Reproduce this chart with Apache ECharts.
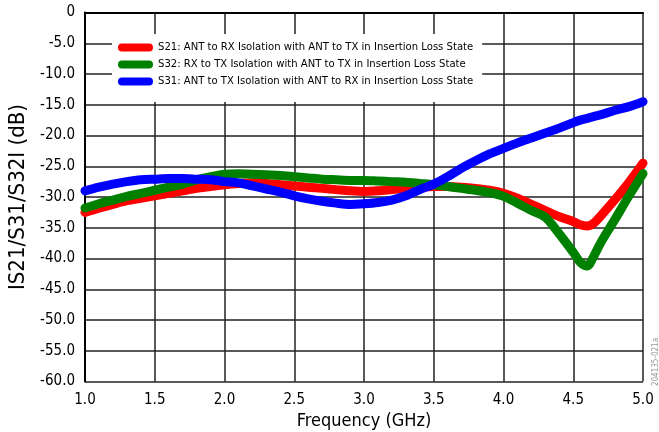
<!DOCTYPE html>
<html>
<head>
<meta charset="utf-8">
<script src="https://cdn.jsdelivr.net/npm/echarts@6/dist/echarts.min.js"></script>
<style>
html,body{margin:0;padding:0;background:#fff;}
#chart{width:659px;height:432px;}
</style>
</head>
<body>
<div id="chart"></div>
<script>
const freq = [1.0,1.1,1.2,1.3,1.4,1.5,1.6,1.7,1.8,1.9,2.0,2.1,2.2,2.3,2.4,2.5,2.6,2.7,2.8,2.9,3.0,3.1,3.2,3.3,3.4,3.5,3.6,3.7,3.8,3.9,4.0,4.1,4.2,4.3,4.4,4.5,4.55,4.6,4.65,4.7,4.8,4.9,5.0];
const s21 = [-32.5,-31.8,-31.2,-30.6,-30.2,-29.8,-29.4,-29.0,-28.6,-28.3,-28.0,-27.8,-27.7,-27.8,-28.0,-28.2,-28.4,-28.6,-28.8,-29.0,-29.1,-29.0,-28.8,-28.6,-28.4,-28.3,-28.3,-28.4,-28.6,-28.9,-29.4,-30.2,-31.2,-32.2,-33.2,-34.0,-34.5,-34.7,-34.2,-33.0,-30.4,-27.6,-24.5];
const s32 = [-31.8,-31.1,-30.5,-29.9,-29.4,-28.9,-28.4,-27.9,-27.2,-26.7,-26.3,-26.2,-26.3,-26.4,-26.5,-26.7,-26.9,-27.1,-27.2,-27.3,-27.3,-27.4,-27.5,-27.6,-27.8,-28.0,-28.3,-28.6,-28.9,-29.3,-29.9,-31.0,-32.2,-33.3,-36.0,-39.0,-40.6,-41.2,-39.5,-37.3,-33.6,-29.8,-26.2];
const s31 = [-29.0,-28.4,-27.9,-27.5,-27.2,-27.1,-27.0,-27.0,-27.1,-27.2,-27.5,-27.7,-28.2,-28.7,-29.2,-29.8,-30.3,-30.7,-31.0,-31.2,-31.1,-30.9,-30.5,-29.8,-28.8,-27.9,-26.7,-25.3,-24.1,-23.0,-22.1,-21.2,-20.4,-19.6,-18.8,-17.9,-17.5,-17.2,-16.9,-16.6,-15.9,-15.3,-14.5];
const seriesNames = [
  'S21: ANT to RX Isolation with ANT to TX in Insertion Loss State',
  'S32: RX to TX Isolation with ANT to TX in Insertion Loss State',
  'S31: ANT to TX Isolation with ANT to RX in Insertion Loss State'
];
const seriesColors = ['#ff0000', '#008000', '#0000ff'];
const seriesValues = [s21, s32, s31];
const xTitle = 'Frequency (GHz)';
const yTitle = 'IS21/S31/S32I (dB)';
const figId = '204135-021a';

const FONT = '"DejaVu Sans Condensed", "Liberation Sans", sans-serif';
const chart = echarts.init(document.getElementById('chart'), null, {renderer: 'canvas'});
const capsule = 'path://M4,0L31,0A4,4,0,0,1,31,8L4,8A4,4,0,0,1,4,0Z';

chart.setOption({
  animation: false,
  backgroundColor: '#fff',
  grid: {left: 85, top: 12.5, right: 16, bottom: 50.5, containLabel: false, outerBoundsMode: 'none'},
  legend: {
    orient: 'vertical',
    left: 112, top: 34,
    padding: [7, 9, 14, 6],
    backgroundColor: '#fff',
    itemWidth: 35, itemHeight: 8, itemGap: 4,
    textStyle: {fontFamily: FONT, fontSize: 11.2, color: '#000', lineHeight: 13},
    data: seriesNames.map((n, i) => ({name: n, icon: capsule, itemStyle: {color: seriesColors[i]}}))
  },
  xAxis: {
    type: 'value', min: 1, max: 5, interval: 0.5,
    name: xTitle, nameLocation: 'middle', nameGap: 24,
    nameTextStyle: {fontFamily: FONT, fontSize: 18, color: '#000'},
    axisLine: {show: true, lineStyle: {color: '#000', width: 2}},
    axisTick: {show: false},
    axisLabel: {fontFamily: FONT, fontSize: 15, color: '#000', margin: 11, formatter: v => v.toFixed(1)},
    splitLine: {show: true, lineStyle: {color: '#222', width: 1.5}}
  },
  yAxis: {
    type: 'value', min: -60, max: 0, interval: 5,
    name: yTitle, nameLocation: 'middle', nameGap: 55, nameRotate: 90,
    nameTextStyle: {fontFamily: FONT, fontSize: 22, color: '#000'},
    axisLine: {show: true, lineStyle: {color: '#000', width: 2}},
    axisTick: {show: false},
    axisLabel: {fontFamily: FONT, fontSize: 15, color: '#000', margin: 10, formatter: v => v === 0 ? '0' : v.toFixed(1)},
    splitLine: {show: true, lineStyle: {color: '#222', width: 1.5}}
  },
  graphic: [{
    type: 'text', x: 656, y: 362, rotation: Math.PI / 2,
    style: {text: figId, font: '8px ' + FONT, fill: '#999', align: 'center', verticalAlign: 'middle'}
  }],
  series: seriesValues.map((vals, i) => ({
    name: seriesNames[i],
    type: 'line',
    smooth: 0.3,
    showSymbol: false,
    z: 2 + i,
    lineStyle: {color: seriesColors[i], width: 9, cap: 'round', join: 'round'},
    itemStyle: {color: seriesColors[i]},
    data: freq.map((f, j) => [f, vals[j]])
  }))
});
</script>
</body>
</html>
